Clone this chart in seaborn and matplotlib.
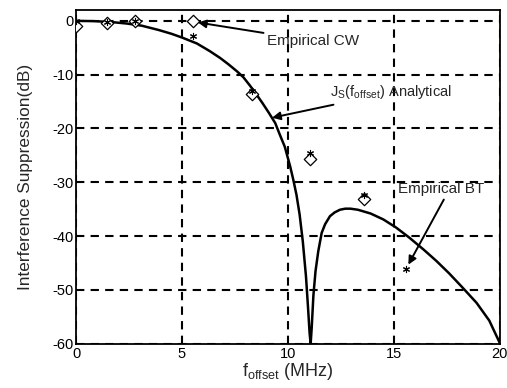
import matplotlib
matplotlib.use("Agg")
import matplotlib.pyplot as plt
import seaborn as sns
import pandas as pd

# Analytical curve
curve_f = [0, 0.8, 1.6, 2.4, 3.1, 3.9, 4.5, 5.0, 5.7, 6.3, 6.8, 7.2, 7.6, 7.9, 8.2, 8.5,
           8.8, 9.1, 9.4, 9.6, 9.85, 10.1, 10.25, 10.4, 10.55, 10.7, 10.85, 10.95, 11.02, 11.07,
           11.12, 11.2, 11.3, 11.43, 11.59, 11.75, 11.98, 12.2, 12.45, 12.7, 12.95, 13.3,
           13.9, 14.5, 15.1, 15.7, 16.4, 17.0, 17.6, 18.2, 18.9, 19.5, 20.0]
curve_db = [0, -0.05, -0.2, -0.5, -0.9, -1.7, -2.4, -3.1, -4.2, -5.6, -6.9, -8.1, -9.4, -10.5, -12.0, -13.6,
            -15.3, -17.1, -19.0, -21.0, -23.4, -27.0, -29.5, -32.3, -36.0, -41.0, -47.5, -53.5, -58.0, -60.0,
            -57.0, -51.0, -46.5, -42.8, -39.4, -37.8, -36.3, -35.6, -35.1, -34.9, -34.9, -35.1,
            -35.8, -36.9, -38.4, -40.2, -42.5, -44.6, -46.9, -49.4, -52.4, -55.7, -59.9]

# Empirical measurements
cw_f = [0, 1.45, 2.8, 5.5, 8.3, 11.05, 13.6]
cw_db = [-0.9, -0.4, 0.0, 0.0, -13.6, -25.6, -33.1]
bt_f = [0, 1.45, 2.8, 5.5, 8.3, 11.05, 13.6, 15.55]
bt_db = [0.0, -0.3, 0.0, -2.8, -13.0, -24.5, -32.3, -46.2]

x_ticks = [0, 5, 10, 15, 20]
y_ticks = [0, -10, -20, -30, -40, -50, -60]

sns.set_style("white")
plt.rcParams['font.family'] = ['Liberation Sans', 'DejaVu Sans']

fig = plt.figure(figsize=(5.07, 3.88), dpi=100)
ax = fig.add_axes([0.150, 0.114, 0.836, 0.860])

df_curve = pd.DataFrame({"f": curve_f, "db": curve_db})
sns.lineplot(data=df_curve, x="f", y="db", ax=ax, color="black", lw=1.8, sort=False, zorder=3)
sns.scatterplot(x=cw_f, y=cw_db, ax=ax, marker="D", s=40, facecolor="white",
                edgecolor="black", linewidth=0.9, zorder=4)
sns.scatterplot(x=bt_f, y=bt_db, ax=ax, marker=(6, 2, 0), s=20, color="black",
                linewidth=0.8, zorder=5)

ax.set_xlim(0, 20)
ax.set_ylim(-60, 2)
ax.set_xticks(x_ticks)
ax.set_yticks(y_ticks)
ax.set_xticklabels([str(v) for v in x_ticks], fontsize=10.5)
ax.set_yticklabels([str(v) for v in y_ticks], fontsize=10.5)
ax.tick_params(direction="in", length=4, width=1, colors="black", pad=2)
ax.grid(True, color="black", linestyle=(0, (4, 3)), linewidth=1.5)
for s in ax.spines.values():
    s.set_color("black")
    s.set_linewidth(1.3)

ax.set_xlabel(r"f$_{\mathregular{offset}}$ (MHz)", fontsize=13, labelpad=0)
ax.set_ylabel("Interference Suppression(dB)", fontsize=12.4, labelpad=14)

arrow = dict(arrowstyle="-|>", color="black", lw=1.4, mutation_scale=12, shrinkA=0, shrinkB=0)
ax.annotate("Empirical CW", xy=(5.75, -0.3), xytext=(9.0, -3.7), fontsize=11,
            va="center", ha="left", arrowprops=arrow)
ax.annotate(r"J$_{\mathregular{S}}$(f$_{\mathregular{offset}}$) Analytical", xy=(9.25, -18.0),
            xytext=(12.0, -13.3), fontsize=10.5, va="center", ha="left", arrowprops=arrow)
ax.annotate("Empirical BT", xy=(15.68, -45.3), xytext=(15.2, -31.3), fontsize=11,
            va="center", ha="left",
            arrowprops=dict(arrowstyle="-|>", color="black", lw=1.4, mutation_scale=12,
                            shrinkA=0, shrinkB=0, relpos=(0.55, 0)))

fig.savefig("out.png", dpi=100)
